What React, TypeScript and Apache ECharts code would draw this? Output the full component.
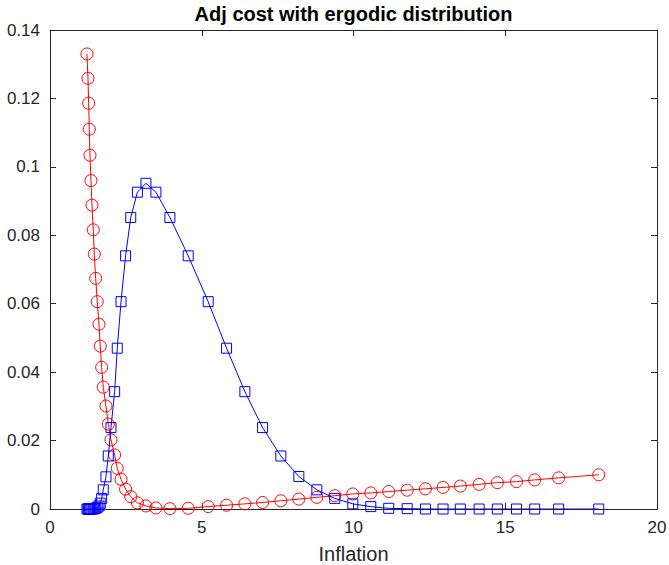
import React, { useEffect, useRef } from "react";
import * as echarts from "echarts";

const inflation = [
  1.218, 1.251, 1.274, 1.294, 1.317, 1.35, 1.383, 1.426, 1.459, 1.505,
  1.557, 1.613, 1.656, 1.702, 1.755, 1.844, 1.92, 2.009, 2.13, 2.216,
  2.34, 2.49, 2.66, 2.88, 3.161, 3.49, 3.951, 4.554, 5.212, 5.818,
  6.421, 7.004, 7.606, 8.199, 8.792, 9.384, 9.977, 10.57, 11.16, 11.77,
  12.37, 12.95, 13.52, 14.14, 14.74, 15.37, 15.97, 16.76, 18.08,
];

const adjCost = [
  0.133, 0.1259, 0.1186, 0.111, 0.1034, 0.096, 0.0888, 0.0816, 0.0745, 0.0674,
  0.0606, 0.054, 0.0476, 0.0414, 0.0356, 0.0301, 0.0248, 0.0202, 0.0158, 0.0119,
  0.0087, 0.0058, 0.0036, 0.0018, 0.0009, 0.0003, 0.0001, 0.0002, 0.0007, 0.0011,
  0.0015, 0.0019, 0.0024, 0.0029, 0.0034, 0.0039, 0.0044, 0.0047, 0.0051, 0.0055,
  0.0059, 0.0063, 0.0067, 0.0072, 0.0077, 0.008, 0.0085, 0.0091, 0.01,
];

const ergodic = [
  0, 0, 0, 0, 0, 0, 0, 0, 0.0001, 0.0002,
  0.0005, 0.0009, 0.0017, 0.0031, 0.0056, 0.0094, 0.0155, 0.0238, 0.0343, 0.047,
  0.0606, 0.074, 0.0852, 0.0926, 0.0952, 0.0926, 0.0852, 0.074, 0.0606, 0.047,
  0.0343, 0.0238, 0.0155, 0.0095, 0.0056, 0.0031, 0.0015, 0.0007, 0.0002, 0.0001,
  0, 0, 0, 0, 0, 0, 0, 0, 0,
];

const titleText = "Adj cost with ergodic distribution";
const xName = "Inflation";

const FONT = "'Liberation Sans', Arial, Helvetica, sans-serif";
const AX = "#262626";

export default function App() {
  const ref = useRef<HTMLDivElement>(null);
  useEffect(() => {
    document.body.style.margin = "0";
    const chart = echarts.init(ref.current!, null, { renderer: "svg" });
    const axisCommon = {
      axisLine: { show: true, onZero: false, lineStyle: { color: AX, width: 1 } },
      axisTick: { show: true, inside: true, length: 6, lineStyle: { color: AX, width: 1 } },
      splitLine: { show: false },
    };
    chart.setOption({
      animation: false,
      backgroundColor: "#ffffff",
      graphic: [
        {
          type: "text",
          x: 353.5,
          y: 14,
          style: {
            text: titleText,
            align: "center",
            verticalAlign: "middle",
            fontFamily: FONT,
            fontSize: 20,
            fontWeight: "bold",
            fill: "#000",
          },
        },
      ],
      grid: {
        left: 50,
        right: 12,
        top: 30,
        bottom: 56,
        containLabel: false,
        outerBoundsMode: "none",
      },
      xAxis: [
        {
          type: "value",
          min: 0,
          max: 20,
          interval: 5,
          position: "bottom",
          name: xName,
          nameLocation: "middle",
          nameGap: 35,
          nameTextStyle: { fontFamily: FONT, fontSize: 20, lineHeight: 20, color: AX },
          axisLabel: { fontFamily: FONT, fontSize: 17, color: AX, margin: 10 },
          ...axisCommon,
        },
        {
          type: "value",
          min: 0,
          max: 20,
          interval: 5,
          position: "top",
          axisLabel: { show: false },
          ...axisCommon,
        },
      ],
      yAxis: [
        {
          type: "value",
          min: 0,
          max: 0.14,
          interval: 0.02,
          position: "left",
          axisLabel: { fontFamily: FONT, fontSize: 17, color: AX, margin: 10 },
          ...axisCommon,
        },
        {
          type: "value",
          min: 0,
          max: 0.14,
          interval: 0.02,
          position: "right",
          axisLabel: { show: false },
          ...axisCommon,
        },
      ],
      series: [
        {
          type: "line",
          xAxisIndex: 0,
          yAxisIndex: 0,
          data: inflation.map((x, i) => [x, adjCost[i]]),
          symbol: "circle",
          symbolSize: 12,
          showAllSymbol: true,
          lineStyle: { color: "#ff0000", width: 1 },
          itemStyle: { color: "rgba(0,0,0,0)", borderColor: "#ff0000", borderWidth: 1 },
          emphasis: { disabled: true },
          z: 3,
        },
        {
          type: "line",
          xAxisIndex: 0,
          yAxisIndex: 0,
          data: inflation.map((x, i) => [x, ergodic[i]]),
          symbol: "rect",
          symbolSize: 10,
          showAllSymbol: true,
          lineStyle: { color: "#0000ff", width: 1 },
          itemStyle: { color: "rgba(0,0,0,0)", borderColor: "#0000ff", borderWidth: 1 },
          emphasis: { disabled: true },
          z: 4,
        },
      ],
    });
    return () => chart.dispose();
  }, []);
  return <div ref={ref} style={{ width: 669, height: 565 }} />;
}
